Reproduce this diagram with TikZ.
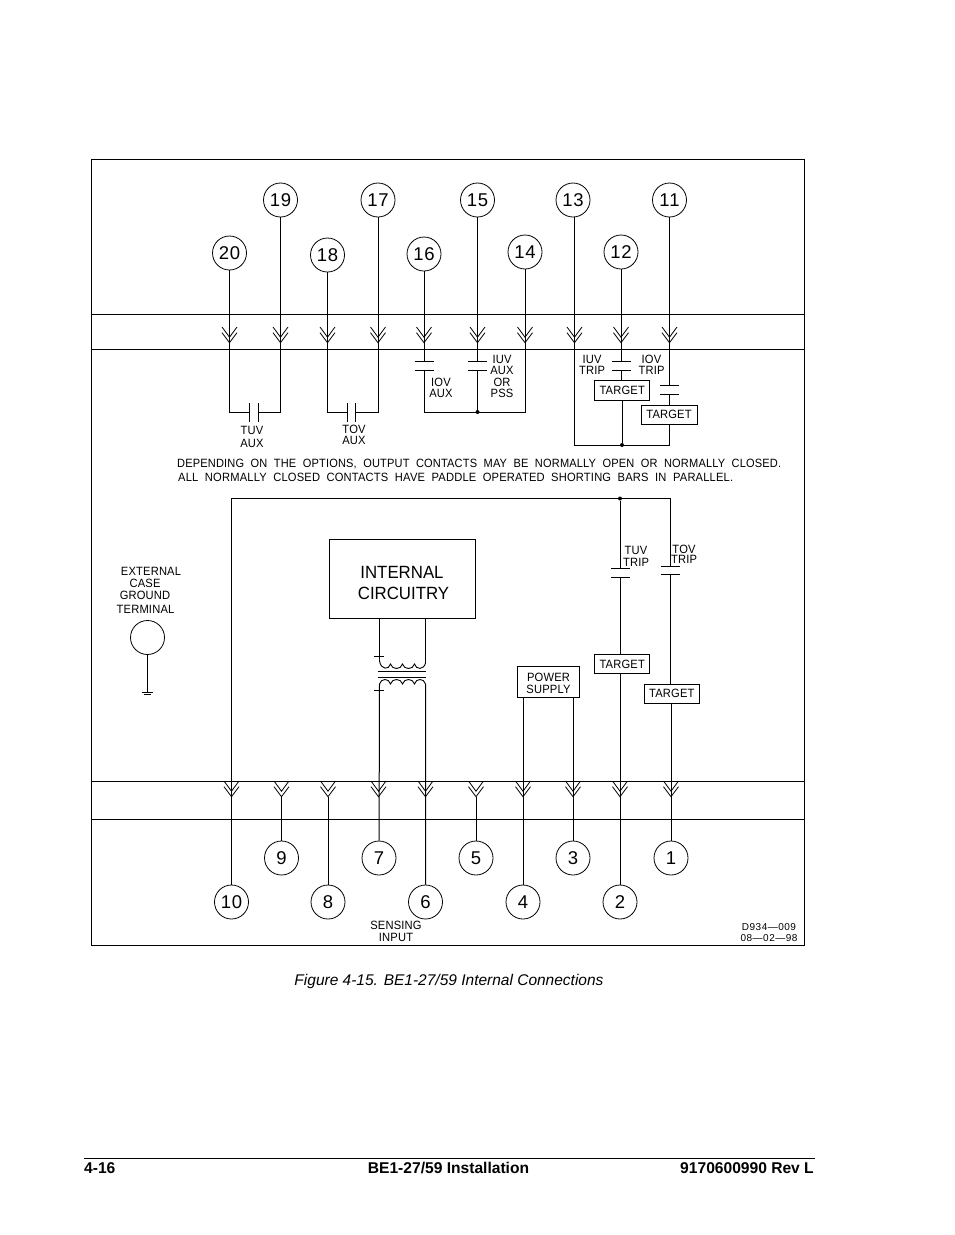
\documentclass[tikz,border=0pt]{standalone}
\usepackage{fontspec}
\setmainfont{Liberation Sans}
\newfontfamily\cadfont[LetterSpace=1.5,FakeStretch=.93]{Liberation Sans}
\newfontfamily\cadbig[FakeStretch=.95]{Liberation Sans}
\newfontfamily\cadnum[LetterSpace=5]{Liberation Sans}
\newcommand{\cadsmall}{\cadfont\fontsize{12}{12}\selectfont}
\tikzset{
  x=1pt,y=-1pt,
  wire/.style={line width=1pt,black},
  term/.style={circle,draw,line width=.8pt,minimum size=34pt,inner sep=0pt,font=\cadnum\fontsize{18.5}{20}\selectfont},
  box/.style={draw,line width=1pt,inner sep=0pt,font=\cadsmall},
  lab/.style={inner sep=0pt,align=center,font=\cadsmall},
  dotnode/.style={circle,fill=black,inner sep=0pt,minimum size=4pt},
  chevpair/.pic={\draw[line width=.8pt] (-7.5,-15.7)--(0,-5.5)--(7.5,-15.7) (-7.5,-10)--(0,0)--(7.5,-10);},
  foot/.style={inner sep=0pt,font=\bfseries\fontsize{15.6}{16}\selectfont}
}
\newcommand{\plateH}[3]{\draw[wire] (#1-9.5,#2)--(#1+9.5,#2) (#1-9.5,#3)--(#1+9.5,#3);}
\begin{document}
\begin{tikzpicture}
\useasboundingbox (0,0) rectangle (954,1235);
\fill[white] (0,0) rectangle (954,1235);
\draw[wire] (91.5,159.5) rectangle (804.5,945.5);
\draw[wire] (91.5,314.5)--(804.5,314.5) (91.5,349)--(804.5,349) (91.5,781.5)--(804.5,781.5) (91.5,819.5)--(804.5,819.5);
% top terminals
\node[term] (t20) at (229.5,253) {20};
\node[term] (t19) at (280.5,200) {19};
\node[term] (t18) at (327.5,255) {18};
\node[term] (t17) at (378,200) {17};
\node[term] (t16) at (424,254) {16};
\node[term] (t15) at (477.5,200) {15};
\node[term] (t14) at (525,252) {14};
\node[term] (t13) at (573,200) {13};
\node[term] (t12) at (621,252) {12};
\node[term] (t11) at (669.5,200) {11};
\foreach \x in {229.5,280.5,327.5,378,424,477.5,525,574.5,621,669.5} \pic at (\x,342.7) {chevpair};
\foreach \x in {231.5,281.5,328,378.5,425.5,476,523,573,620,671} \pic at (\x,796.7) {chevpair};
% TUV AUX
\coordinate (a1) at (229.5,412); \coordinate (a2) at (249.5,412); \coordinate (a3) at (258.5,412); \coordinate (a4) at (280.5,412);
\draw[wire] (t20)--(a1)--(a2) (a3)--(a4)--(t19);
\draw[wire] (249.5,403)--(249.5,421.5) (258.5,403)--(258.5,421.5);
% TOV AUX
\coordinate (b1) at (327.5,412); \coordinate (b2) at (347,412); \coordinate (b3) at (355.7,412); \coordinate (b4) at (378,412);
\draw[wire] (t18)--(b1)--(b2) (b3)--(b4)--(t17);
\draw[wire] (347,403)--(347,421.5) (355.7,403)--(355.7,421.5);
% IOV / IUV AUX
\coordinate (c1) at (424,361.7); \coordinate (c2) at (424,370.3); \coordinate (c3) at (424,412);
\coordinate (d1) at (477.5,361.7); \coordinate (d2) at (477.5,370.3); \node[dotnode] (d3) at (477.5,412) {};
\coordinate (e1) at (525,412);
\draw[wire] (t16)--(c1) (c2)--(c3)--(e1)--(t14);
\draw[wire] (t15)--(d1) (d2)--(d3);
\plateH{424}{361.7}{370.3}
\plateH{477.5}{361.7}{370.3}
% trip output
\node[dotnode] (j1) at (622,445) {};
\coordinate (f1) at (574.5,445); \coordinate (f2) at (574.5,216.9);
\coordinate (g1) at (621,361.7); \coordinate (g2) at (621,370.3);
\node[box,minimum width=55pt,minimum height=19.5pt] (tg1) at (622.2,390.4) {\raisebox{-1pt}{TARGET}};
\coordinate (h1) at (669.5,385); \coordinate (h2) at (669.5,394.7); \coordinate (h3) at (669.5,445);
\node[box,minimum width=56pt,minimum height=19.5pt] (tg2) at (669,414.8) {\raisebox{-1.5pt}{TARGET}};
\draw[wire] (f2)--(f1)--(h3)--(tg2.south-|h3);
\draw[wire] (t12)--(g1) (g2)--(tg1.north-|g2) (tg1.south-|j1)--(j1);
\draw[wire] (t11)--(h1) (h2)--(tg2.north-|h2);
\plateH{621}{361.7}{370.3}
\plateH{669.5}{385}{394.7}
% lower
\node[term] (b9) at (281.5,858) {9};
\node[term] (b7) at (379,858) {7};
\node[term] (b5) at (476,858) {5};
\node[term] (b3t) at (573,858) {3};
\node[term] (b1t) at (671,858) {1};
\node[term] (b10) at (231.5,902) {10};
\node[term] (b8) at (328,902) {8};
\node[term] (b6) at (425.5,902) {6};
\node[term] (b4t) at (523,902) {4};
\node[term] (b2t) at (620,902) {2};
\coordinate (m9) at (281.5,797); \coordinate (m8) at (328,797); \coordinate (m5) at (476,797);
\draw[wire] (b9)--(m9) (b8)--(m8) (b5)--(m5);
\node[dotnode] (j2) at (620,498.5) {};
\coordinate (k1) at (231.5,498.5); \coordinate (k2) at (670.5,498.5);
\coordinate (k3) at (670.5,566); \coordinate (k4) at (670.5,574.3);
\coordinate (k5) at (620,568.7); \coordinate (k6) at (620,577.3);
\draw[wire] (b10)--(k1)--(k2)--(k3) (j2)--(k5);
\node[box,minimum width=55pt,minimum height=19pt] (tg3) at (622.2,664) {\raisebox{-1pt}{TARGET}};
\node[box,minimum width=55pt,minimum height=18.7pt] (tg4) at (671.8,693.7) {\raisebox{-1.3pt}{TARGET}};
\draw[wire] (k6)--(tg3.north-|k6) (tg3.south-|b2t)--(b2t);
\draw[wire] (k4)--(tg4.north-|k4) (tg4.south-|b1t)--(b1t);
\plateH{620.5}{568.7}{577.3}
\plateH{670.5}{566}{574.3}
\node[box,minimum width=62pt,minimum height=31pt,align=center] (ps) at (548.5,682) {};
\node[lab] (pslab) at (548.5,683.5) {POWER\\[.5pt]SUPPLY};
\draw[wire] (ps.south-|b4t)--(b4t) (ps.south-|b3t)--(b3t);
% internal circuitry
\node[box,minimum width=146pt,minimum height=79.5pt] (ic) at (402.5,578.8) {};
\node[inner sep=0pt,anchor=base] (iclab1) at (402,578) {\cadbig\fontsize{17.7}{20}\selectfont INTERNAL};
\node[inner sep=0pt,anchor=base] (iclab2) at (403.5,599) {\cadbig\fontsize{17.7}{20}\selectfont CIRCUITRY};
\coordinate (p1) at (379.5,661); \coordinate (p2) at (425.5,663);
\draw[wire] (ic.south-|p1)--(p1) (ic.south-|p2)--(p2);
\draw[line width=.9pt] (p1) .. controls (381,670) and (389,670) .. (390.5,664) .. controls (392,670) and (401,670) .. (402.5,664) .. controls (404,670) and (413,670) .. (414.5,664) .. controls (416,670) and (424,670) .. (p2);
\draw[wire] (378,671.3)--(426,671.3) (378,677)--(426,677);
\coordinate (q1) at (379.5,684); \coordinate (q2) at (425.5,684);
\draw[line width=.9pt] (q1) .. controls (381,678) and (389,678) .. (390.5,684) .. controls (392,678) and (401,678) .. (402.5,684) .. controls (404,678) and (413,678) .. (414.5,684) .. controls (416,678) and (424,678) .. (q2);
\draw[wire] (q1)--(b7) (q2)--(b6);
\draw[wire] (374,656.7)--(384,656.7) (374,690.7)--(384,690.7);
% ground
\node[circle,draw,line width=.8pt,minimum size=34pt,inner sep=0pt] (gnd) at (147.5,637.5) {};
\coordinate (g0) at (147.5,692);
\draw[wire] (gnd)--(g0);
\draw[wire] (141.5,692)--(152.5,692) (143.5,694.3)--(150.5,694.3);
% labels
\node[lab] at (252,437) {TUV\\[.5pt]AUX};
\node[lab] at (354,435) {TOV\\[-1.5pt]AUX};
\node[lab] at (441,388) {IOV\\[-1pt]AUX};
\node[lab] at (502,376) {IUV\\[-.5pt]AUX\\[-.5pt]OR\\[-1pt]PSS};
\node[lab] at (592,365) {IUV\\[-.5pt]TRIP};
\node[lab] at (651.5,365) {IOV\\[-.5pt]TRIP};
\node[lab] at (636,556.5) {TUV\\[-.5pt]TRIP};
\node[lab] at (684,554) {TOV\\[-2pt]TRIP};
\node[lab,anchor=base] at (151,575) {EXTERNAL};
\node[lab,anchor=base] at (145,587) {CASE};
\node[lab,anchor=base] at (145,599) {GROUND};
\node[lab,anchor=base] at (145.5,613) {TERMINAL};
\node[lab] at (396,931.5) {SENSING\\[.5pt]INPUT};
\node[lab,anchor=base] at (769,930) {\cadnum\fontsize{10}{11}\selectfont D934—009};
\node[lab,anchor=base] at (769,941.6) {\cadnum\fontsize{10}{11}\selectfont 08—02—98};
\node[lab,anchor=base west] at (177,467) {\resizebox{604pt}{\height}{DEPENDING\ \ ON\ \ THE\ \ OPTIONS,\ \ OUTPUT\ \ CONTACTS\ \ MAY\ \ BE\ \ NORMALLY\ \ OPEN\ \ OR\ \ NORMALLY\ \ CLOSED.}};
\node[lab,anchor=base west] at (178,481) {\resizebox{555pt}{\height}{ALL\ \ NORMALLY\ \ CLOSED\ \ CONTACTS\ \ HAVE\ \ PADDLE\ \ OPERATED\ \ SHORTING\ \ BARS\ \ IN\ \ PARALLEL.}};
% caption & footer
\node[inner sep=0pt,anchor=base,font=\itshape\fontsize{15.5}{16}\selectfont] at (449,985) {Figure 4-15. BE1-27/59 Internal Connections};
\draw[line width=.8pt] (84,1158.5)--(815,1158.5);
\node[foot,anchor=base west] at (84,1173.5) {4-16};
\node[foot,anchor=base] at (448.5,1173.5) {BE1-27/59 Installation};
\node[foot,anchor=base east] at (814,1173.5) {9170600990 Rev L};
\end{tikzpicture}
\end{document}
